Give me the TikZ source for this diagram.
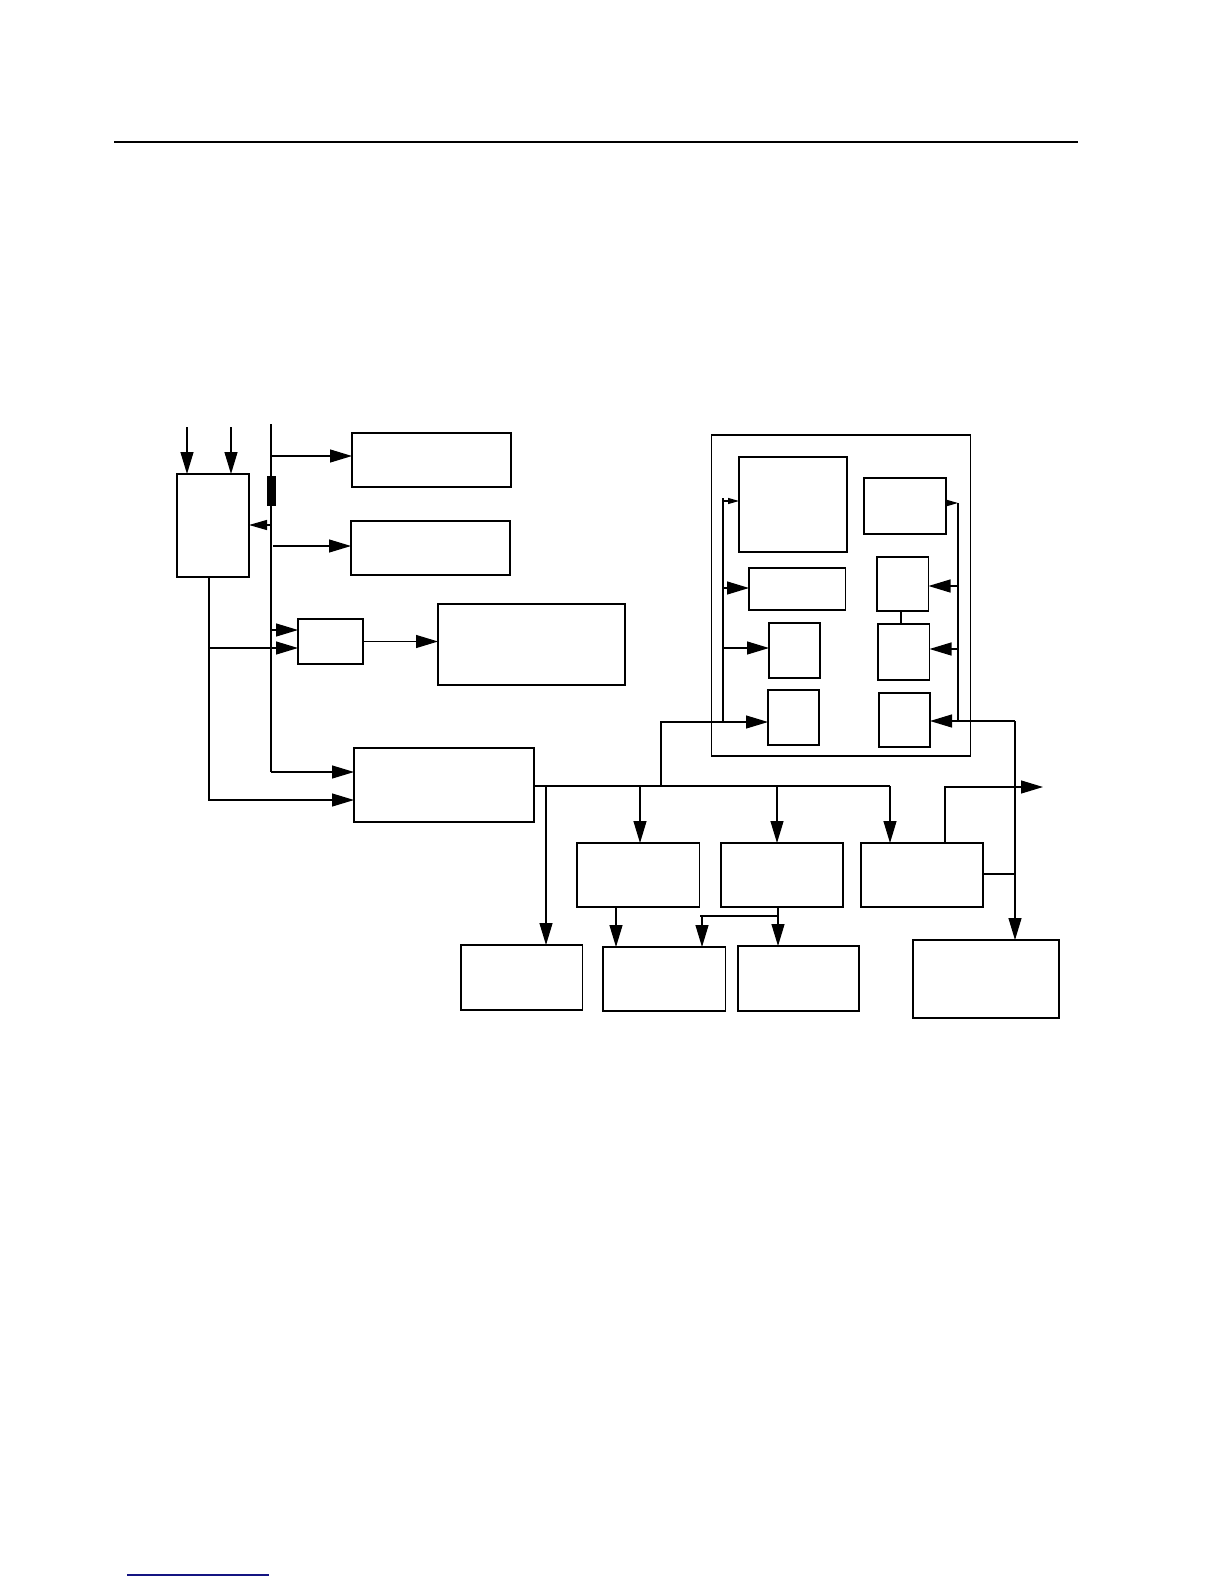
\documentclass[tikz,border=0pt]{standalone}
\usetikzlibrary{arrows.meta}
\definecolor{navy}{RGB}{20,20,130}
\tikzset{
  ln/.style={line width=1.2pt},
  box/.style={draw, line width=1.2pt, inner sep=0pt, outer sep=0pt, anchor=north west, rectangle},
  arr/.style={ln, -{Triangle[length=22pt,width=13pt]}},
  arrM/.style={ln, -{Triangle[length=18pt,width=10pt]}},
  arrS/.style={ln, -{Triangle[length=11pt,width=6pt]}}
}
\newcommand\bx[5]{\node[box, minimum width=#4pt, minimum height=#5pt] (#1) at (#2,#3) {};}
\begin{document}
\begin{tikzpicture}[x=1pt,y=-1pt]
\useasboundingbox (0,0) rectangle (1224,1584);
% rules
\draw[line width=2.2pt] (114,142) -- (1078,142);
\draw[navy, line width=1.2pt] (127,1575) -- (269,1575);
% boxes
\bx{lb}{177}{474}{72}{103}
\bx{t1}{352}{433}{159}{54}
\bx{t2}{351}{521}{159}{54}
\bx{sm}{298}{619}{65}{45}
\bx{bg}{438}{604}{187}{81}
\bx{md}{354}{748}{180}{74}
\bx{ob}{711.5}{435}{259}{321}
\bx{A}{739}{457}{108}{95}
\bx{B}{864}{478}{82}{56}
\bx{C}{749}{568}{96.5}{42}
\bx{D}{877}{557}{51.5}{54}
\bx{E}{769}{623}{51}{55}
\bx{F}{878}{624}{51.5}{56}
\bx{G}{768}{690}{51}{55}
\bx{H}{879}{693}{51}{54}
\bx{M1}{577}{843}{122.5}{64}
\bx{M2}{721}{843}{122}{64}
\bx{M3}{861}{843}{122}{64}
\bx{L1}{461}{945}{121.5}{65}
\bx{B1}{603}{947}{122.5}{64}
\bx{B2}{738}{946}{121}{65}
\bx{BR}{913}{940}{146}{78}
% black element on the bus
\node[fill=black, draw=none, inner sep=0pt, minimum width=9pt, minimum height=30pt] (res) at (271.5,491) {};
% inputs to left box
\coordinate (i1) at (187,427);
\coordinate (i2) at (231,427);
\draw[arr] (i1) -- (i1 |- lb.north);
\draw[arr] (i2) -- (i2 |- lb.north);
% main vertical bus
\coordinate (bt) at (271,424);
\coordinate (bb) at (271,772);
\draw[ln] (bt) -- (bb);
\draw[arr] (bb) -- (bb -| md.west);
\coordinate (b1) at (271,456);
\draw[arr] (b1) -- (b1 -| t1.west);
\coordinate (b2) at (271,525);
\draw[arrM] (b2) -- (b2 -| lb.east);
\coordinate (b3) at (273,546);
\draw[arr] (b3) -- (b3 -| t2.west);
\coordinate (b4) at (271,630);
\draw[arr] (b4) -- (b4 -| sm.west);
% left line from left box
\coordinate (la) at (209,577);
\coordinate (lm) at (209,648);
\coordinate (lc) at (209,800);
\draw[arr] (la) -- (lc) -- (lc -| md.west);
\draw[arr] (lm) -- (lm -| sm.west);
% small box to big box
\draw[arr] (sm.east) -- (sm.east -| bg.west);
% output bus of mid box
\coordinate (o1) at (890,786);
\draw[ln] (md.east |- o1) -- (o1);
\draw[arr] (o1) -- (o1 |- M3.north);
\coordinate (o2) at (546,786);
\draw[arr] (o2) -- (o2 |- L1.north);
\coordinate (o3) at (640,786);
\draw[arr] (o3) -- (o3 |- M1.north);
\coordinate (o4) at (777,786);
\draw[arr] (o4) -- (o4 |- M2.north);
\coordinate (o5) at (661,786);
\coordinate (g1) at (661,722);
\draw[arr] (o5) -- (g1) -- (g1 -| G.west);
% inner left bus
\coordinate (ilt) at (723,498);
\coordinate (ilb) at (723,722);
\draw[ln] (ilt) -- (ilb);
\coordinate (il1) at (723,501);
\draw[arrS] (il1) -- (il1 -| A.west);
\coordinate (il2) at (723,588);
\draw[arr] (il2) -- (il2 -| C.west);
\coordinate (il3) at (723,648);
\draw[arr] (il3) -- (il3 -| E.west);
% inner right bus
\coordinate (irt) at (958,503);
\coordinate (irb) at (958,721);
\draw[ln] (irt) -- (irb);
\draw[arrS] (irt -| B.east) -- (irt);
\coordinate (ir1) at (958,586);
\draw[arr] (ir1) -- (ir1 -| D.east);
\coordinate (ir2) at (958,649);
\draw[arr] (ir2) -- (ir2 -| F.east);
\coordinate (r3) at (1015,721);
\draw[arr] (r3) -- (r3 -| H.east);
\draw[arr] (r3) -- (r3 |- BR.north);
% D to F
\coordinate (df) at (901,611);
\draw[ln] (df) -- (df |- F.north);
% M3 connections
\coordinate (m3r) at (1015,874);
\draw[ln] (m3r -| M3.east) -- (m3r);
\coordinate (m3t) at (945,787);
\coordinate (oute) at (1043,787);
\draw[arr] (m3t |- M3.north) -- (m3t) -- (oute);
% M1, M2 outputs
\coordinate (m1o) at (616,907);
\draw[arr] (m1o) -- (m1o |- B1.north);
\coordinate (m2o) at (778,907);
\draw[arr] (m2o) -- (m2o |- B2.north);
\coordinate (h1) at (700,916);
\coordinate (h3) at (778,916);
\draw[ln] (h1) -- (h3);
\coordinate (h2) at (702,916);
\draw[arr] (h2) -- (h2 |- B1.north);
\end{tikzpicture}
\end{document}
